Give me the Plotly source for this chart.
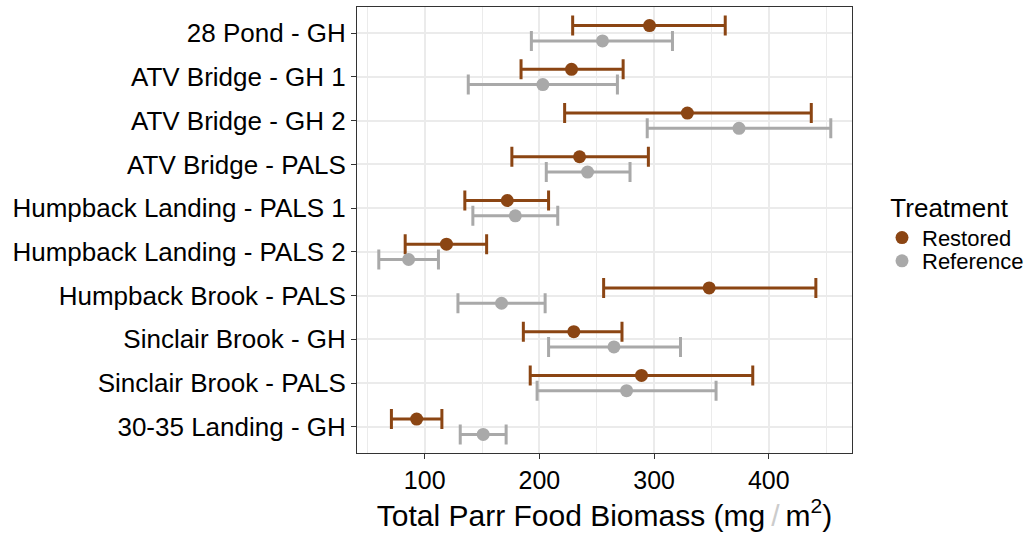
import plotly.graph_objects as go

# Sites, top to bottom
sites = [
    "28 Pond - GH",
    "ATV Bridge - GH 1",
    "ATV Bridge - GH 2",
    "ATV Bridge - PALS",
    "Humpback Landing - PALS 1",
    "Humpback Landing - PALS 2",
    "Humpback Brook - PALS",
    "Sinclair Brook - GH",
    "Sinclair Brook - PALS",
    "30-35 Landing - GH",
]

# Total parr food biomass (mg/m^2): mean with lower/upper interval bounds
restored_mean = [296, 228, 329, 235, 172, 119, 348, 230, 289, 93]
restored_low = [229, 184, 222, 176, 135, 83, 256, 186, 192, 71]
restored_high = [362, 273, 437, 295, 208, 154, 441, 272, 386, 115]

reference_mean = [255, 203, 374, 242, 179, 86, 167, 265, 276, 151]
reference_low = [193, 138, 294, 206, 142, 60, 129, 208, 198, 131]
reference_high = [316, 268, 454, 279, 216, 112, 205, 323, 354, 171]

x_ticks = [100, 200, 300, 400]

FONT = "Liberation Sans, Arial, Helvetica, sans-serif"
DODGE = 0.175  # vertical offset of each treatment within a site row
GRID = "#EBEBEB"
FRAME = "#333333"
W, H = 1032, 538

fig = go.Figure()


def add_series(name, color, means, lows, highs, offset, legend_id):
    ys = [i + offset for i in range(len(sites))]
    fig.add_trace(
        go.Scatter(
            x=means,
            y=ys,
            mode="markers",
            name=name,
            legend=legend_id,
            marker=dict(color=color, size=13),
            error_x=dict(
                type="data",
                symmetric=False,
                array=[h - m for h, m in zip(highs, means)],
                arrayminus=[m - l for m, l in zip(means, lows)],
                color=color,
                thickness=3,
                width=10,
            ),
            customdata=[[s] for s in sites],
            hovertemplate="%{customdata[0]}<br>%{x}<extra>" + name + "</extra>",
        )
    )


add_series("Restored", "#8B4513", restored_mean, restored_low, restored_high, -DODGE, "legend")
add_series("Reference", "#A9A9A9", reference_mean, reference_low, reference_high, DODGE, "legend2")

# Two stacked legend boxes (placed in container pixels) keep the key rows tight
legend_left = 882 / W
fig.update_layout(
    width=W,
    height=H,
    margin=dict(l=357, r=180, t=7, b=85),
    paper_bgcolor="white",
    plot_bgcolor="white",
    font=dict(family=FONT, color="black"),
    legend=dict(
        title=dict(text="Treatment", font=dict(size=26), side="top center"),
        font=dict(size=22),
        xref="container",
        yref="container",
        x=legend_left,
        xanchor="left",
        y=1 - 183 / H,
        yanchor="top",
        itemwidth=30,
        bgcolor="rgba(0,0,0,0)",
    ),
    legend2=dict(
        font=dict(size=22),
        xref="container",
        yref="container",
        x=legend_left,
        xanchor="left",
        y=1 - 261 / H,
        yanchor="middle",
        itemwidth=30,
        bgcolor="rgba(0,0,0,0)",
    ),
    showlegend=True,
)

fig.update_xaxes(
    range=[41, 472.5],
    tickvals=x_ticks,
    ticktext=[str(v) for v in x_ticks],
    tickfont=dict(size=25, color="black"),
    ticks="outside",
    ticklen=5,
    tickwidth=1,
    tickcolor=FRAME,
    showgrid=True,
    gridcolor=GRID,
    gridwidth=1.7,
    minor=dict(dtick=50, tick0=0, showgrid=True, gridcolor=GRID, gridwidth=1.4),
    showline=True,
    mirror=True,
    linecolor=FRAME,
    linewidth=1,
    zeroline=False,
    title=dict(
        text="Total Parr Food Biomass (mg\u2009<span style='color:#CCCCCC'>/</span>\u2009m<sup>2</sup>)",
        font=dict(size=30),
        standoff=10,
    ),
)

fig.update_yaxes(
    range=[len(sites) - 1 + 0.6, -0.6],
    tickvals=list(range(len(sites))),
    ticktext=sites,
    tickfont=dict(size=26, color="black"),
    ticks="outside",
    ticklen=5,
    tickwidth=1,
    tickcolor=FRAME,
    showgrid=True,
    gridcolor=GRID,
    gridwidth=1.7,
    showline=True,
    mirror=True,
    linecolor=FRAME,
    linewidth=1,
    zeroline=False,
)

fig.write_html("out.html")
